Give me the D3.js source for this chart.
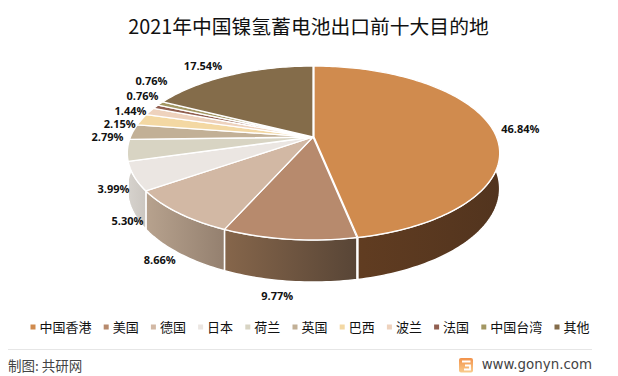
<!DOCTYPE html>
<html>
<head>
<meta charset="utf-8">
<script src="https://cdn.jsdelivr.net/npm/d3@7"></script>
<style>
  html, body { margin: 0; padding: 0; background: #fff; }
  svg { display: block; }
</style>
</head>
<body>
<div id="chart"></div>
<script>
const titleText = "2021年中国镍氢蓄电池出口前十大目的地";
const places = ["中国香港", "美国", "德国", "日本", "荷兰", "英国", "巴西", "波兰", "法国", "中国台湾", "其他"];
const shares = [46.84, 9.77, 8.66, 5.30, 3.99, 2.79, 2.15, 1.44, 0.76, 0.76, 17.54];
const topColors = ["#d08b4e", "#b78a6d", "#d2b8a4", "#ebe6e2", "#d8d4c3", "#c2b096", "#f3d8a3", "#eed2bd", "#915f50", "#a39763", "#846c4a"];
const sideLeft = ["#653f22", "#86664b", "#b7a28e", "#d6d2cd", "#bdb9a9", "#a8997f", "#d3bb8d", "#cfb6a3", "#7e5245", "#8e8356", "#735e40"];
const sideRight = ["#52341e", "#584536", "#94806f", "#cbc6c0", "#bdb9a9", "#a8997f", "#d3bb8d", "#cfb6a3", "#7e5245", "#8e8356", "#735e40"];

const width = 618, height = 376;
const cx = 313, cy = 137;          // where the slices meet
const radius = 182.5, tilt = 84;   // flattened disc
const persp = 0.184;               // near edge is drawn bigger than far edge
const depth = 34.4;                // thickness of the disc

// label nudges from the point just outside the rim
const labelNudge = [[8, 2], [-8, -1], [1, -3], [17, 3], [9, 3], [-4, 7], [-2, 7], [-1, 3], [4, -6], [8, -18], [-19, -2]];

const svg = d3.select("#chart").append("svg")
  .attr("width", width)
  .attr("height", height)
  .style("font-family", "'Noto Sans CJK SC', sans-serif");

const defs = svg.append("defs");

const slices = d3.pie().sort(null).value(d => d)(shares);

// angle is clockwise from the top, r is 0..1 of the radius, h is how far down the side
function project(angle, r, h) {
  const px = Math.sin(angle) * r;
  const py = Math.cos(angle) * r;
  const s = 1 / (1 + persp * py);
  return [cx + radius * px * s, cy - tilt * py * s + h * s];
}

function arcPoints(d, h) {
  const steps = Math.max(2, Math.ceil((d.endAngle - d.startAngle) / 0.02));
  return d3.range(steps + 1).map(i =>
    project(d.startAngle + (d.endAngle - d.startAngle) * i / steps, 1, h));
}

const pathLine = d3.line();

// only the orange slice is pulled out a little
const shift = i => i === 0 ? 1 : 0;

// sides first
const sides = svg.append("g");
slices.forEach((d, i) => {
  const top = arcPoints(d, 0), bottom = arcPoints(d, depth);
  const xs = top.map(p => p[0]);
  const id = "side" + i;
  const grad = defs.append("linearGradient")
    .attr("id", id)
    .attr("gradientUnits", "userSpaceOnUse")
    .attr("x1", d3.min(xs)).attr("x2", d3.max(xs))
    .attr("y1", 0).attr("y2", 0);
  grad.append("stop").attr("offset", 0).attr("stop-color", sideLeft[i]);
  grad.append("stop").attr("offset", 1).attr("stop-color", sideRight[i]);

  sides.append("path")
    .attr("d", pathLine(top.concat(bottom.reverse())) + "Z")
    .attr("transform", `translate(${shift(i)}, 0)`)
    .attr("fill", `url(#${id})`)
    .attr("stroke", "#fff")
    .attr("stroke-width", 1.5)
    .attr("stroke-linejoin", "round");
});

// dark cut face showing next to the orange slice
const cutEnd = project(slices[0].endAngle, 1, 0);
svg.append("line")
  .attr("x1", cx + 5).attr("y1", cy + 5)
  .attr("x2", cutEnd[0]).attr("y2", cutEnd[1])
  .attr("transform", "translate(0.6, 0)")
  .attr("stroke", "#4a3020")
  .attr("stroke-width", 1);

// tops
svg.append("g").selectAll("path")
  .data(slices)
  .join("path")
    .attr("d", d => pathLine([project(0, 0, 0)].concat(arcPoints(d, 0))) + "Z")
    .attr("transform", (d, i) => `translate(${shift(i)}, 0)`)
    .attr("fill", (d, i) => topColors[i])
    .attr("stroke", "#fff")
    .attr("stroke-width", 1.3)
    .attr("stroke-linejoin", "round");

// percent labels
svg.append("g").selectAll("text")
  .data(slices)
  .join("text")
    .attr("x", (d, i) => project((d.startAngle + d.endAngle) / 2, 1.12, i < 5 ? depth : 0)[0] + labelNudge[i][0])
    .attr("y", (d, i) => project((d.startAngle + d.endAngle) / 2, 1.12, i > 0 && i < 5 ? depth : 0)[1] + labelNudge[i][1])
    .attr("text-anchor", "middle")
    .attr("dominant-baseline", "middle")
    .style("font-family", "'Open Sans', sans-serif")
    .style("font-size", "11px")
    .style("font-weight", 700)
    .style("fill", "#111")
    .text(d => d.value.toFixed(2) + "%");

// title
svg.append("text")
  .attr("x", 308.5)
  .attr("y", 34)
  .attr("text-anchor", "middle")
  .style("font-size", "19.8px")
  .style("fill", "#111")
  .text(titleText);

// legend
const legendFont = 13, legendGap = 21.2;
let legendX = 30.5;
places.forEach((name, i) => {
  svg.append("rect")
    .attr("x", legendX)
    .attr("y", 324.5)
    .attr("width", 5)
    .attr("height", 5)
    .attr("fill", topColors[i]);
  svg.append("text")
    .attr("x", legendX + 9)
    .attr("y", 332)
    .style("font-size", legendFont + "px")
    .style("fill", "#111")
    .text(name);
  legendX += name.length * legendFont + legendGap;
});

// footer
svg.append("line")
  .attr("x1", 8).attr("x2", 592)
  .attr("y1", 349.5).attr("y2", 349.5)
  .attr("stroke", "#e6e6e6");

svg.append("text")
  .attr("x", 8)
  .attr("y", 371)
  .style("font-size", "13.5px")
  .style("fill", "#444")
  .text("制图: 共研网");

const logoGrad = defs.append("linearGradient")
  .attr("id", "logoFill")
  .attr("x1", 0).attr("x2", 0).attr("y1", 0).attr("y2", 1);
logoGrad.append("stop").attr("offset", 0).attr("stop-color", "#f2924a");
logoGrad.append("stop").attr("offset", 1).attr("stop-color", "#f9cb8c");

svg.append("rect")
  .attr("x", 459).attr("y", 358)
  .attr("width", 14).attr("height", 14.5)
  .attr("rx", 2)
  .attr("fill", "url(#logoFill)");
svg.append("path")
  .attr("d", "M470.5 361.5H462M465 365.5H470V369.5H464")
  .attr("fill", "none")
  .attr("stroke", "#fff")
  .attr("stroke-width", 1.8);

svg.append("text")
  .attr("x", 592)
  .attr("y", 369)
  .attr("text-anchor", "end")
  .style("font-family", "'DejaVu Sans', sans-serif")
  .style("font-size", "13.4px")
  .style("fill", "#444")
  .text("www.gonyn.com");
</script>
</body>
</html>
